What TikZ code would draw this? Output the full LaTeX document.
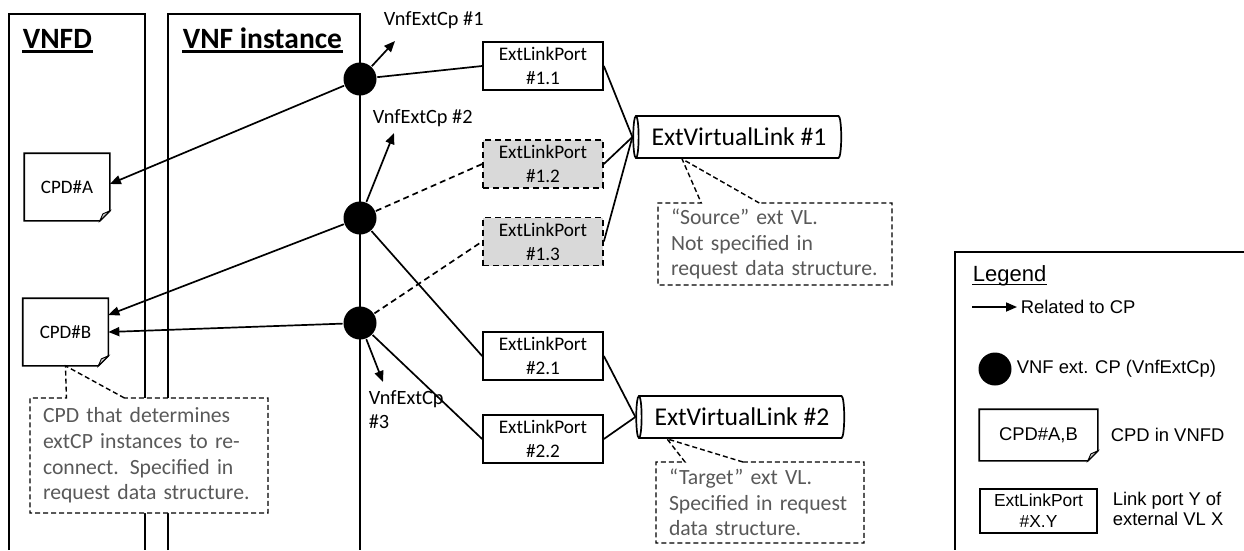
\documentclass[tikz,border=0pt]{standalone}
\usepackage{fontspec}
\setmainfont{Carlito}
\newfontfamily\legendfont{Liberation Sans}
\usetikzlibrary{arrows.meta,shapes.geometric,shapes.callouts}
\definecolor{notegray}{RGB}{89,89,89}
\definecolor{portgray}{RGB}{217,217,217}
\tikzset{
  port/.style={draw,minimum width=120pt,minimum height=48pt,inner sep=0pt,align=center,font=\fontsize{19.2}{24}\selectfont},
  portx/.style={port,fill=portgray,dash pattern=on 6pt off 4pt},
  cpd/.style={minimum width=84pt,minimum height=66pt,inner sep=0pt,font=\fontsize{19}{21}\selectfont},
  extcp/.style={circle,fill=black,minimum size=33pt,inner sep=0pt},
  vlink/.style={cylinder,shape border rotate=180,draw,aspect=0.3,minimum height=208pt,minimum width=42pt,inner sep=0pt,font=\fontsize{25.6}{28}\selectfont},
  note/.style={rectangle callout,draw,fill=white,line width=1.4pt,dash pattern=on 5pt off 3pt,text=notegray,align=left,inner xsep=13pt,inner ysep=3pt,callout pointer width=58pt,font=\fontsize{21.7}{25.7}\selectfont},
  cplabel/.style={anchor=west,inner sep=0pt,align=left,font=\fontsize{20.3}{24}\selectfont},
  title/.style={anchor=base west,inner sep=0pt,font=\fontsize{29.5}{32}\selectfont\bfseries},
  uline/.style={line width=2.4pt},
  lgtext/.style={anchor=west,inner sep=0pt,align=left,font=\legendfont\fontsize{18.4}{20.5}\selectfont}
}
\newcommand\foldcpd[1]{%
  \draw (#1.north west) -- (#1.north east) -- ([yshift=10pt]#1.south east) -- ([xshift=-10pt]#1.south east) -- (#1.south west) -- cycle;
  \draw[fill=gray!40,line width=0.9pt] ([yshift=10pt]#1.south east) -- ([xshift=-10pt]#1.south east) -- ([xshift=-7pt,yshift=7pt]#1.south east) -- cycle;}
\begin{document}
\begin{tikzpicture}[x=1pt,y=-1pt,line width=1.7pt,>={Triangle[length=11pt,width=9pt]}]
\useasboundingbox (0,0) rectangle (1244,550);
\draw (9,550) -- (9,14) -- (145,14) -- (145,550);
\draw (168,550) -- (168,14) -- (360,14) -- (360,550);
\draw (1244,252) -- (955,252) -- (955,550);
\node[title] (tvnfd) at (22,48) {VNFD};
\node[title] (tvnfi) at (182,48) {VNF instance};
\draw[uline] ([yshift=-3.5pt]tvnfd.base west) -- ([yshift=-3.5pt]tvnfd.base east);
\draw[uline] ([yshift=-3.5pt]tvnfi.base west) -- ([yshift=-3.5pt]tvnfi.base east);

\node[extcp] (cp1) at (360,79) {};
\node[extcp] (cp2) at (360,218) {};
\node[extcp] (cp3) at (360,323) {};
\node[cplabel] (lx1) at (383,20) {VnfExtCp \#1};
\node[cplabel] (lx2) at (372,118) {VnfExtCp \#2};
\node[cplabel] (lx3) at (368,410) {VnfExtCp\\\#3};
\coordinate (e1) at (395,41);
\coordinate (e2) at (394,133);
\coordinate (e3) at (383,382);

\node[cpd] (cpdA) at (67,187) {CPD\#A};
\node[cpd] (cpdB) at (65.5,332) {CPD\#B};
\foldcpd{cpdA}
\foldcpd{cpdB}

\node[port] (p11) at (543,66) {ExtLinkPort\\\#1.1};
\node[portx] (p12) at (543,164) {ExtLinkPort\\\#1.2};
\node[portx] (p13) at (543,241.5) {ExtLinkPort\\\#1.3};
\node[port] (p21) at (543,356) {ExtLinkPort\\\#2.1};
\node[port] (p22) at (543,439) {ExtLinkPort\\\#2.2};
\node[vlink] (vl1) at (739,137) {ExtVirtualLink \#1};
\node[vlink] (vl2) at (742,417) {ExtVirtualLink \#2};

\draw[->] (cp1) -- (e1);
\draw[->] (cp2) -- (e2);
\draw[->] (cp3) -- (e3);
\draw[->] (cp1) -- ([yshift=3pt]cpdA.east);
\draw[->] (cp2) -- ([yshift=17pt]cpdB.east);
\draw[->] (cp3) -- (cpdB.east);
\draw (cp1) -- (p11.west);
\draw[dash pattern=on 6pt off 4pt] (cp2) -- (p12.west);
\draw[dash pattern=on 6pt off 4pt] (cp3) -- (p13.west);
\draw (cp2) -- (p21.west);
\draw (cp3) -- (p22.west);
\draw (p11.east) -- (vl1.west);
\draw (p12.east) -- (vl1.west);
\draw (p13.east) -- (vl1.west);
\draw (p21.east) -- (vl2.west);
\draw (p22.east) -- (vl2.west);

\node[note,text width=212pt,minimum height=115pt,callout absolute pointer={(cpdB.south)}] (ncpd) at (149,455.5)
  {CPD that determines\\extCP instances to re-\\connect. Specified in\\request data structure.};
\node[note,text width=208pt,minimum height=82pt,callout absolute pointer={([xshift=-57pt]vl1.south)}] (nsrc) at (775,244)
  {“Source” ext VL.\\Not specified in\\request data structure.};
\node[note,text width=182pt,minimum height=81pt,callout absolute pointer={([xshift=-75pt]vl2.south)}] (ntgt) at (760,502.5)
  {“Target” ext VL.\\Specified in request\\data structure.};

\node[lgtext,font=\legendfont\fontsize{22}{24}\selectfont] (lgt) at (972,276) {Legend};
\draw[line width=1.4pt] ([yshift=-3pt]lgt.base west) -- ([yshift=-3pt]lgt.base east);
\coordinate (lga) at (972,307);
\node[lgtext] (lgrel) at (1020,307) {Related to CP};
\draw[->] (lga) -- ([xshift=-3pt]lgrel.west);
\node[extcp] (lgcp) at (995,369) {};
\node[lgtext] (lgcpt) at (1016,369) {VNF ext. CP (VnfExtCp)};
\node[cpd,minimum width=117pt,minimum height=50pt,font=\legendfont\fontsize{18.4}{21}\selectfont] (lgcpd) at (1038.5,435) {CPD\#A,B};
\foldcpd{lgcpd}
\node[lgtext] (lgcpdt) at (1110,435) {CPD in VNFD};
\node[port,minimum width=117pt,minimum height=44pt,font=\legendfont\fontsize{17.4}{21}\selectfont] (lgport) at (1038.5,511) {ExtLinkPort\\\#X.Y};
\node[lgtext] (lgportt) at (1112,509) {Link port Y of\\external VL X};
\end{tikzpicture}
\end{document}
